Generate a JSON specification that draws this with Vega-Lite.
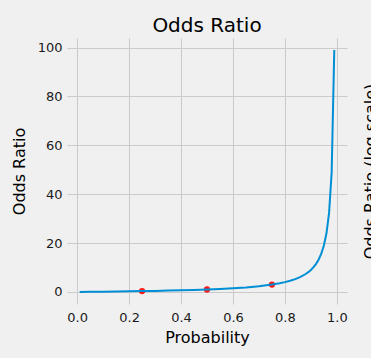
{
  "$schema": "https://vega.github.io/schema/vega-lite/v6.json",
  "autosize": "none",
  "width": 280,
  "height": 266,
  "padding": {"left": 67, "top": 38, "right": 24, "bottom": 54},
  "background": "#f0f0f0",
  "config": {
    "font": "DejaVu Sans",
    "view": {"stroke": null, "fill": "#f0f0f0"},
    "axis": {
      "domain": false,
      "ticks": false,
      "gridColor": "#cbcbcb",
      "gridWidth": 1,
      "labelFont": "DejaVu Sans",
      "labelFontSize": 13,
      "labelColor": "#1a1a1a",
      "titleFont": "DejaVu Sans",
      "titleFontSize": 16,
      "titleFontWeight": "normal",
      "titleColor": "#000000"
    }
  },
  "title": {
    "text": "Odds Ratio",
    "font": "DejaVu Sans",
    "fontSize": 20,
    "fontWeight": "normal",
    "color": "#000000",
    "anchor": "middle",
    "frame": "group",
    "baseline": "alphabetic",
    "offset": -14
  },
  "datasets": {
    "curve": [
      {"p": 0.01, "odds": 0.0101},
      {"p": 0.05, "odds": 0.0526},
      {"p": 0.10, "odds": 0.1111},
      {"p": 0.15, "odds": 0.1765},
      {"p": 0.20, "odds": 0.25},
      {"p": 0.25, "odds": 0.3333},
      {"p": 0.30, "odds": 0.4286},
      {"p": 0.35, "odds": 0.5385},
      {"p": 0.40, "odds": 0.6667},
      {"p": 0.45, "odds": 0.8182},
      {"p": 0.50, "odds": 1.0},
      {"p": 0.55, "odds": 1.2222},
      {"p": 0.60, "odds": 1.5},
      {"p": 0.65, "odds": 1.8571},
      {"p": 0.70, "odds": 2.3333},
      {"p": 0.75, "odds": 3.0},
      {"p": 0.78, "odds": 3.5455},
      {"p": 0.80, "odds": 4.0},
      {"p": 0.82, "odds": 4.5556},
      {"p": 0.84, "odds": 5.25},
      {"p": 0.86, "odds": 6.1429},
      {"p": 0.88, "odds": 7.3333},
      {"p": 0.89, "odds": 8.0909},
      {"p": 0.90, "odds": 9.0},
      {"p": 0.91, "odds": 10.111},
      {"p": 0.92, "odds": 11.5},
      {"p": 0.93, "odds": 13.286},
      {"p": 0.94, "odds": 15.667},
      {"p": 0.95, "odds": 19.0},
      {"p": 0.96, "odds": 24.0},
      {"p": 0.97, "odds": 32.333},
      {"p": 0.98, "odds": 49.0},
      {"p": 0.99, "odds": 99.0}
    ],
    "marks": [
      {"p": 0.25, "odds": 0.3333},
      {"p": 0.50, "odds": 1.0},
      {"p": 0.75, "odds": 3.0}
    ]
  },
  "layer": [
    {
      "data": {"name": "marks"},
      "mark": {"type": "circle", "color": "#ff0000", "opacity": 0.9, "size": 40},
      "encoding": {
        "x": {
          "field": "p", "type": "quantitative",
          "scale": {"domain": [-0.039, 1.039], "nice": false, "zero": false},
          "axis": {"title": "Probability", "grid": true, "values": [0, 0.2, 0.4, 0.6, 0.8, 1.0], "format": ".1f", "labelPadding": 7, "titlePadding": 5}
        },
        "y": {
          "field": "odds", "type": "quantitative",
          "scale": {"domain": [-4.94, 103.9], "nice": false, "zero": false},
          "axis": {
            "orient": "right",
            "title": "Odds Ratio (log scale)",
            "labels": false,
            "grid": false,
            "titleAngle": 270,
            "titleX": 15,
            "titleY": 133,
            "titleAlign": "center",
            "titleBaseline": "top"
          }
        }
      }
    },
    {
      "data": {"name": "curve"},
      "mark": {"type": "line", "color": "#008fd5", "strokeWidth": 2},
      "encoding": {
        "x": {"field": "p", "type": "quantitative"},
        "y": {
          "field": "odds", "type": "quantitative",
          "scale": {"domain": [-4.94, 103.9], "nice": false, "zero": false},
          "axis": {"orient": "left", "title": "Odds Ratio", "grid": true, "values": [0, 20, 40, 60, 80, 100], "labelPadding": 5, "titlePadding": 10}
        }
      }
    }
  ],
  "resolve": {"scale": {"y": "independent"}, "axis": {"y": "independent"}}
}
